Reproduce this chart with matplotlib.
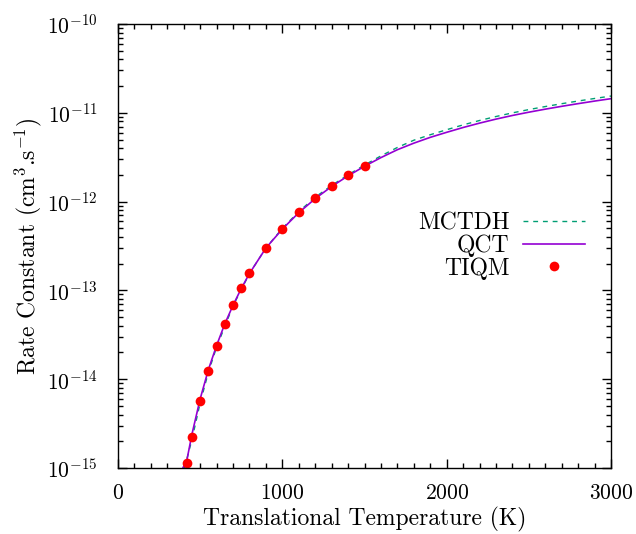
import numpy as np
import matplotlib
matplotlib.use("Agg")
import matplotlib.pyplot as plt
from matplotlib.ticker import MultipleLocator, LogLocator, NullFormatter, FixedLocator

plt.rcParams['font.family'] = ['cmr10', 'DejaVu Serif']
plt.rcParams['mathtext.fontset'] = 'cm'
plt.rcParams['axes.formatter.use_mathtext'] = True
plt.rcParams['font.size'] = 15.5

# MCTDH curve
T_mctdh = [405, 450, 500, 550, 600, 700, 800, 900, 1000, 1100, 1200, 1300,
           1400, 1500, 1600, 1700, 1800, 1900, 2000, 2100, 2200, 2300, 2400,
           2500, 2600, 2700, 2800, 2900, 3000]
k_mctdh = [1.0e-15, 2.1e-15, 5.4e-15, 1.2e-14, 2.3e-14, 6.7e-14, 1.55e-13,
           3.0e-13, 5.0e-13, 7.7e-13, 1.12e-12, 1.52e-12, 2.0e-12, 2.58e-12,
           3.27e-12, 4.07e-12, 4.91e-12, 5.66e-12, 6.45e-12, 7.31e-12,
           8.19e-12, 9.08e-12, 9.98e-12, 1.087e-11, 1.176e-11, 1.266e-11,
           1.357e-11, 1.45e-11, 1.544e-11]

# QCT curve
T_qct = [395, 420, 450, 500, 550, 600, 650, 700, 750, 800, 900, 1000, 1100,
         1200, 1300, 1400, 1500, 1600, 1700, 1800, 1900, 2000, 2100, 2200,
         2300, 2400, 2500, 2600, 2700, 2800, 2900, 3000]
k_qct = [1.0e-15, 1.25e-15, 2.4e-15, 6.0e-15, 1.28e-14, 2.4e-14, 4.2e-14,
         6.8e-14, 1.05e-13, 1.55e-13, 3.0e-13, 4.9e-13, 7.5e-13, 1.08e-12,
         1.48e-12, 1.95e-12, 2.5e-12, 3.13e-12, 3.84e-12, 4.55e-12, 5.29e-12,
         6.03e-12, 6.83e-12, 7.65e-12, 8.49e-12, 9.33e-12, 1.016e-11,
         1.099e-11, 1.183e-11, 1.268e-11, 1.355e-11, 1.443e-11]

# TIQM points
T_tiqm = [420, 450, 500, 550, 600, 650, 700, 750, 800, 900, 1000, 1100,
          1200, 1300, 1400, 1500]
k_tiqm = [1.14e-15, 2.22e-15, 5.7e-15, 1.24e-14, 2.38e-14, 4.22e-14, 6.85e-14,
          1.06e-13, 1.57e-13, 3.0e-13, 4.91e-13, 7.64e-13, 1.10e-12, 1.50e-12,
          2.0e-12, 2.52e-12]

y_ticks = [1e-15, 1e-14, 1e-13, 1e-12, 1e-11, 1e-10]

fig = plt.figure(figsize=(6.36, 5.34), dpi=100)
ax = fig.add_axes([118/636, 66/534, 493/636, 444/534])

ax.plot(T_mctdh, k_mctdh, color='#009e73', lw=1.0, dashes=(3.5, 3.5), label='MCTDH')
ax.plot(T_qct, k_qct, color='#9400d3', lw=1.2, label='QCT')
ax.plot(T_tiqm, k_tiqm, 'o', color='#ff0000', ms=7, mec='none', label='TIQM')

ax.set_yscale('log')
ax.set_xlim(0, 3000)
ax.set_ylim(1e-15, 1e-10)
ax.xaxis.set_major_locator(MultipleLocator(1000))
ax.xaxis.set_minor_locator(MultipleLocator(100))
ax.yaxis.set_major_locator(FixedLocator(y_ticks))
ax.yaxis.set_minor_locator(LogLocator(base=10, subs=np.arange(2, 10), numticks=10))
ax.yaxis.set_minor_formatter(NullFormatter())
ax.tick_params(which='both', direction='in', top=True, right=True, width=1.0)
ax.tick_params(which='major', length=6.5)
ax.tick_params(which='minor', length=3.3)
ax.tick_params(axis='x', which='major', pad=11)
ax.tick_params(axis='y', which='major', pad=14.5)
for s in ax.spines.values():
    s.set_linewidth(1.0)

ax.set_xlabel('Translational Temperature (K)', fontsize=17, labelpad=3)
ax.set_ylabel(r'Rate Constant (cm$^3$.s$^{-1}$)', fontsize=17, labelpad=2)

ax.legend(loc='center right', bbox_to_anchor=(0.947, 0.5), frameon=False,
          markerfirst=False, handlelength=2.6, handletextpad=0.6,
          labelspacing=0.0, borderpad=0, borderaxespad=0, fontsize=17)

fig.savefig('out.png', dpi=100)
